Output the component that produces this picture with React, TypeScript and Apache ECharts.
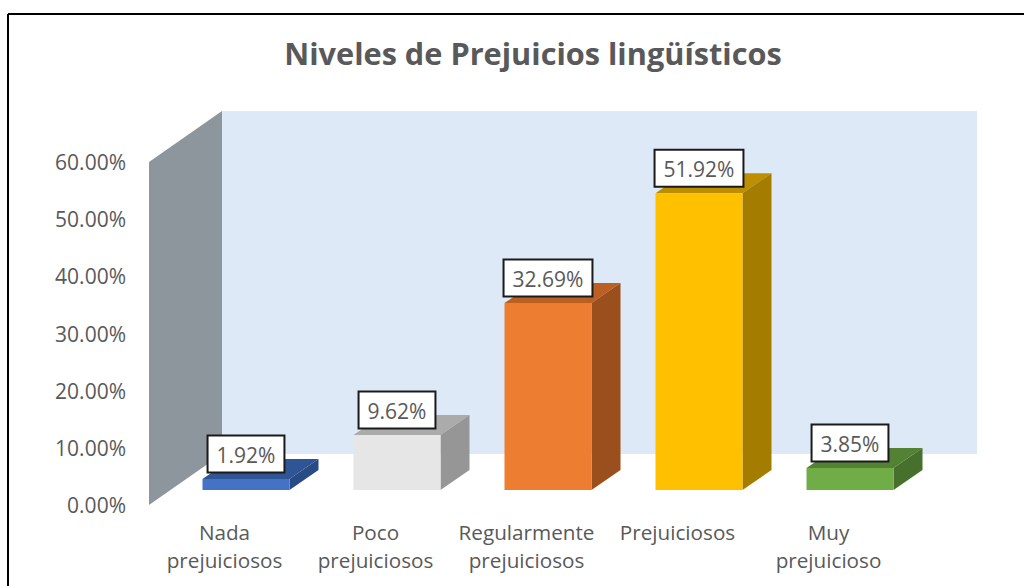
import React, { useEffect, useRef } from "react";
import * as echarts from "echarts";

const categories = [
  "Nada\nprejuiciosos",
  "Poco\nprejuiciosos",
  "Regularmente\nprejuiciosos",
  "Prejuiciosos",
  "Muy\nprejuicioso",
];
const values = [1.92, 9.62, 32.69, 51.92, 3.85];
const frontColors = ["#4472C4", "#E7E6E6", "#ED7D31", "#FFC000", "#70AD47"];
const topColors = ["#2F5597", "#ABABAB", "#BC5F23", "#BD8E00", "#548235"];
const sideColors = ["#2A4A85", "#969696", "#9B4F1D", "#A37C00", "#47702D"];
const titleText = "Niveles de Prejuicios lingüísticos";
const FONT = '"Open Sans", "Noto Sans", sans-serif';
const TEXT = "#595959";

const WALL_DX = 73;
const WALL_DY = 51;
const BAR_OFF_DX = 21.5;
const BAR_OFF_DY = 15;
const BAR_DX = 29;
const BAR_DY = 20;
const BAR_W = 87;

export default function App() {
  const ref = useRef<HTMLDivElement>(null);
  useEffect(() => {
    document.body.style.margin = "0";
    const chart = echarts.init(ref.current!, null, { renderer: "svg" });
    chart.setOption({
      animation: false,
      backgroundColor: "#ffffff",
      grid: { left: 149, right: 120, top: 162, bottom: 81 },
      title: {
        text: titleText,
        left: 528,
        top: 32,
        textAlign: "center",
        textStyle: { fontFamily: FONT, fontSize: 30.7, fontWeight: "bold", color: TEXT },
      },
      graphic: [
        { type: "line", shape: { x1: 8, y1: 14, x2: 1024, y2: 14 }, style: { stroke: "#000", lineWidth: 2 } },
        { type: "line", shape: { x1: 8, y1: 14, x2: 8, y2: 586 }, style: { stroke: "#000", lineWidth: 2 } },
      ],
      xAxis: {
        type: "category",
        data: categories,
        axisLine: { show: false },
        axisTick: { show: false },
        axisLabel: {
          interval: 0,
          margin: 13,
          verticalAlign: "top",
          lineHeight: 28,
          fontFamily: FONT,
          fontSize: 20.7,
          color: TEXT,
        },
      },
      yAxis: {
        type: "value",
        min: 0,
        max: 60,
        interval: 10,
        axisLine: { show: false },
        axisTick: { show: false },
        splitLine: { show: false },
        axisLabel: {
          margin: 23,
          padding: [2, 0, 0, 0],
          fontFamily: FONT,
          fontSize: 21,
          color: TEXT,
          formatter: (v: number) => v.toFixed(2) + "%",
        },
      },
      series: [
        {
          type: "custom",
          silent: true,
          z: 1,
          data: [[0, 60]],
          renderItem: (params: any, api: any) => {
            const top = api.coord([0, 60])[1];
            const bottom = api.coord([0, 0])[1];
            const l = params.coordSys.x;
            const r = l + params.coordSys.width;
            return {
              type: "group",
              children: [
                {
                  type: "rect",
                  shape: { x: l + WALL_DX, y: top - WALL_DY, width: r - l, height: bottom - top },
                  style: { fill: "#DEE9F7" },
                },
                {
                  type: "polygon",
                  shape: {
                    points: [
                      [l, top],
                      [l + WALL_DX, top - WALL_DY],
                      [l + WALL_DX, bottom - WALL_DY],
                      [l, bottom],
                    ],
                  },
                  style: { fill: "#8E969D" },
                },
              ],
            };
          },
        },
        {
          type: "custom",
          silent: true,
          z: 2,
          data: values.map((v, i) => [i, v]),
          encode: { x: 0, y: 1 },
          renderItem: (params: any, api: any) => {
            const i = api.value(0);
            const v = api.value(1);
            const pTop = api.coord([i, v]);
            const pBase = api.coord([i, 0]);
            const x0 = pTop[0] + BAR_OFF_DX - BAR_W / 2;
            const x1 = x0 + BAR_W;
            const yT = pTop[1] - BAR_OFF_DY;
            const yB = pBase[1] - BAR_OFF_DY;
            return {
              type: "group",
              children: [
                {
                  type: "polygon",
                  shape: {
                    points: [
                      [x0, yT],
                      [x0 + BAR_DX, yT - BAR_DY],
                      [x1 + BAR_DX, yT - BAR_DY],
                      [x1, yT],
                    ],
                  },
                  style: { fill: topColors[i] },
                },
                {
                  type: "polygon",
                  shape: {
                    points: [
                      [x1, yT],
                      [x1 + BAR_DX, yT - BAR_DY],
                      [x1 + BAR_DX, yB - BAR_DY],
                      [x1, yB],
                    ],
                  },
                  style: { fill: sideColors[i] },
                },
                {
                  type: "rect",
                  shape: { x: x0, y: yT, width: BAR_W, height: yB - yT },
                  style: { fill: frontColors[i] },
                },
                {
                  type: "text",
                  x: x0 + BAR_W / 2,
                  y: yT - 7.5,
                  style: {
                    text: v.toFixed(2) + "%",
                    align: "center",
                    verticalAlign: "bottom",
                    fontFamily: FONT,
                    fontSize: 21,
                    fill: TEXT,
                    backgroundColor: "#ffffff",
                    borderColor: "#1a1a1a",
                    borderWidth: 2,
                    padding: [8, 8, 6, 8],
                  },
                },
              ],
            };
          },
        },
      ],
    });
    return () => chart.dispose();
  }, []);
  return (
    <div
      ref={ref}
      style={{ position: "absolute", left: 0, top: 0, width: 1024, height: 586 }}
    />
  );
}
